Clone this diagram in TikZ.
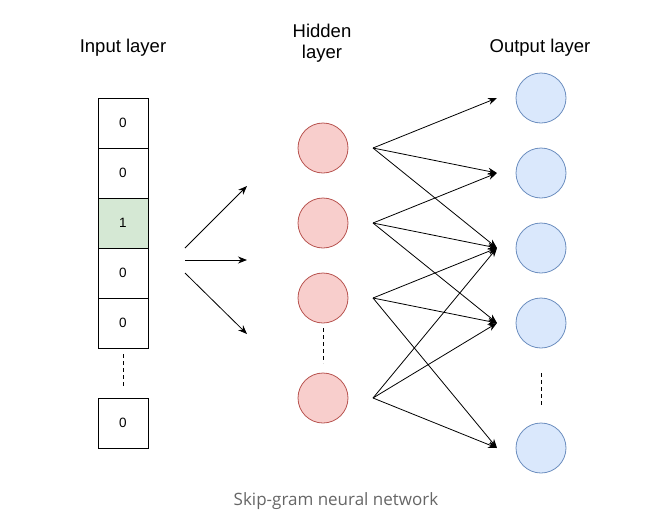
\documentclass[tikz,border=0pt]{standalone}
\usepackage{fontspec}
\setmainfont{Liberation Sans}
\newfontfamily\capfont{Open Sans}
\usepackage{xcolor}
\usetikzlibrary{arrows.meta,positioning}
\definecolor{hidfill}{HTML}{F8CECC}
\definecolor{hiddraw}{HTML}{B85450}
\definecolor{outfill}{HTML}{DAE8FC}
\definecolor{outdraw}{HTML}{6C8EBF}
\definecolor{onefill}{HTML}{D5E8D4}
\definecolor{capgray}{HTML}{666666}
\tikzset{
  cell/.style={draw, line width=0.9pt, minimum size=50pt, inner sep=0pt, outer sep=0pt, font=\fontsize{13.5}{15}\selectfont},
  hidden/.style={circle, draw=hiddraw, fill=hidfill, line width=0.8pt, minimum size=50pt, inner sep=0pt, outer sep=0pt},
  output/.style={circle, draw=outdraw, fill=outfill, line width=0.8pt, minimum size=50pt, inner sep=0pt, outer sep=0pt},
  layer/.style={font=\fontsize{18.5}{21}\selectfont, align=center},
  link/.style={->, line width=0.8pt},
  gap/.style={dash pattern=on 4pt off 3pt, line width=0.8pt},
}

\begin{document}
\begin{tikzpicture}[x=1pt, y=-1pt, >={Stealth[length=9pt,width=7pt]}]
  \useasboundingbox (0,0) rectangle (649,528);

  % 层标题
  \node[layer, anchor=base] (inlabel) at (123,52) {Input layer};
  \node[layer] (hidlabel) at (322,43) {Hidden\\layer};
  \node[layer, anchor=base] (outlabel) at (540,52) {Output layer};

  % 输入向量
  \node[cell] (in1) at (123,123) {0};
  \node[cell, below=0pt of in1] (in2) {0};
  \node[cell, fill=onefill, below=0pt of in2] (in3) {1};
  \node[cell, below=0pt of in3] (in4) {0};
  \node[cell, below=0pt of in4] (in5) {0};
  \node[cell, below=50pt of in5] (in6) {0};
  \draw[gap, shorten <=6pt, shorten >=10pt] (in5) -- (in6);

  % 输入到隐藏层的箭头
  \coordinate (s1) at (185,248);
  \coordinate (s2) at (185,260);
  \coordinate (s3) at (185,273);
  \coordinate (t1) at (247,186);
  \coordinate (t2) at (247,260);
  \coordinate (t3) at (247,334);
  \foreach \i in {1,2,3}
    \draw[link] (s\i) -- (t\i);

  % 隐藏层
  \node[hidden] (h1) at (323,148) {};
  \node[hidden, below=25pt of h1] (h2) {};
  \node[hidden, below=25pt of h2] (h3) {};
  \node[hidden, below=50pt of h3] (h4) {};
  \draw[gap, shorten <=5pt, shorten >=10pt] (h3) -- (h4);

  % 输出层
  \node[output] (o1) at (541,98) {};
  \node[output, below=25pt of o1] (o2) {};
  \node[output, below=25pt of o2] (o3) {};
  \node[output, below=25pt of o3] (o4) {};
  \node[output, below=75pt of o4] (o5) {};
  \draw[gap, shorten <=25pt, shorten >=16pt] (o4) -- (o5);

  % 隐藏层到输出层的连线
  \foreach \h/\o in {1/1,1/2,1/3,2/2,2/3,2/4,3/3,3/4,3/5,4/3,4/4,4/5}
    \draw[link] ([xshift=25pt]h\h.east) -- ([xshift=-19pt]o\o.west);

  % 图注
  \node[font=\capfont\fontsize{17}{20}\selectfont, text=capgray, anchor=base] (caption) at (336,505) {Skip-gram neural network};
\end{tikzpicture}
\end{document}
